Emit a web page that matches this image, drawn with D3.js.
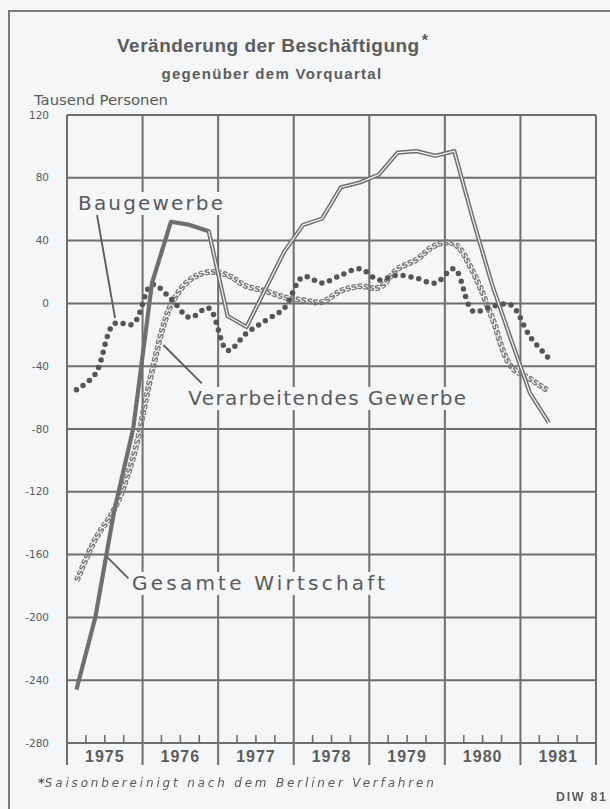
<!DOCTYPE html>
<html>
<head>
<meta charset="utf-8">
<script src="https://cdn.jsdelivr.net/npm/d3@7/dist/d3.min.js"></script>
<style>
  html, body { margin: 0; padding: 0; background: #f4f6f8; }
  svg { display: block; }
  .sglyphs { opacity: 0.99; will-change: transform; }
</style>
</head>
<body>
<svg id="chart" width="610" height="809"></svg>
<script>
// ---------------- DATA ----------------
const years = [1975, 1976, 1977, 1978, 1979, 1980, 1981];
const yearLabels = ["1975", "1976", "1977", "1978", "1979", "1980", "1981"];
const quarters = [
  "1975-1","1975-2","1975-3","1975-4",
  "1976-1","1976-2","1976-3","1976-4",
  "1977-1","1977-2","1977-3","1977-4",
  "1978-1","1978-2","1978-3","1978-4",
  "1979-1","1979-2","1979-3","1979-4",
  "1980-1","1980-2","1980-3","1980-4",
  "1981-1","1981-2"
];
// Tausend Personen, Veränderung gegenüber dem Vorquartal
const gesamteWirtschaft = [
  -246, -200, -132, -80,
    13,   52,   50,  46,
    -8,  -15,    9,  33,
    50,   54,   74,  77,
    82,   96,   97,  94,
    97,   53,   12, -23,
   -57,  -76
];
const verarbeitendesGewerbe = [
  -177, -150, -131, -98,
   -43,   -1,   15,  20,
    18,   11,    8,   4,
     2,    1,    8,  11,
    10,   22,   28,  37,
    38,   20,   -9, -40,
   -48,  -56
];
const baugewerbe = [
  -55, -45, -13, -13,
   12,   3,  -9,  -3,
  -30, -19, -11,  -3,
   17,  13,  18,  22,
   15,  18,  16,  13,
   22,  -5,  -2,  -1,
  -21, -35
];
const yTicks = [120, 80, 40, 0, -40, -80, -120, -160, -200, -240, -280];
const yTickLabels = ["120", "80", "40", "0", "-40", "-80", "-120", "-160", "-200", "-240", "-280"];

// ---------------- LAYOUT ----------------
const W = 610, H = 809;
const bg = "#f4f6f8";
const gridColor = "#6e6e6e";
const textColor = "#5a5a5a";
const plot = { left: 67, right: 596, top: 115, bottom: 743 };

const svg = d3.select("#chart");
svg.append("rect").attr("width", W).attr("height", H).attr("fill", bg);

const x = d3.scaleLinear().domain([years[0], years[years.length - 1] + 1]).range([plot.left, plot.right]);
const y = d3.scaleLinear().domain([yTicks[yTicks.length - 1], yTicks[0]]).range([plot.bottom, plot.top]);

const toT = s => { const [yr, q] = s.split("-").map(Number); return yr + (q - 0.5) / 4; };
const mk = arr => quarters.map((q, i) => ({ t: toT(q), v: arr[i] }));

// outer frame
svg.append("path")
  .attr("d", "M9,840V11H612")
  .attr("fill", "none").attr("stroke", "#7a7a7a").attr("stroke-width", 2);

// Title
const title = svg.append("text")
  .attr("x", 117).attr("y", 52)
  .attr("font-family", "Liberation Sans, Arial, sans-serif")
  .attr("font-weight", "bold").attr("font-size", 19)
  .attr("letter-spacing", 0.5)
  .attr("fill", "#5c5c5c");
title.append("tspan").text("Veränderung der Beschäftigung");
title.append("tspan").attr("dy", -6).attr("dx", 2).attr("font-size", 16).text("*");

svg.append("text")
  .attr("x", 272).attr("y", 79)
  .attr("text-anchor", "middle")
  .attr("font-family", "Liberation Sans, Arial, sans-serif")
  .attr("font-weight", "bold").attr("font-size", 15)
  .attr("letter-spacing", 1.3)
  .attr("fill", "#5c5c5c")
  .text("gegenüber dem Vorquartal");

svg.append("text")
  .attr("x", 34).attr("y", 105)
  .attr("font-family", "DejaVu Sans, sans-serif")
  .attr("font-size", 14)
  .attr("textLength", 134).attr("lengthAdjust", "spacingAndGlyphs")
  .attr("fill", textColor)
  .text("Tausend Personen");

// Grid
const grid = svg.append("g").attr("stroke", gridColor).attr("stroke-width", 2).attr("fill", "none");
yTicks.forEach(v => {
  grid.append("line")
    .attr("x1", x(years[0])).attr("x2", x(years[years.length - 1] + 1))
    .attr("y1", y(v)).attr("y2", y(v));
});
d3.range(years[0], years[years.length - 1] + 2).forEach(yr => {
  grid.append("line")
    .attr("x1", x(yr)).attr("x2", x(yr))
    .attr("y1", y(yTicks[0])).attr("y2", y(yTicks[yTicks.length - 1]) + 22);
});
years.forEach(yr => {
  [0.25, 0.5, 0.75].forEach(f => {
    grid.append("line")
      .attr("x1", x(yr + f)).attr("x2", x(yr + f))
      .attr("y1", y(yTicks[yTicks.length - 1])).attr("y2", y(yTicks[yTicks.length - 1]) - 8)
      .attr("stroke-width", 1.6);
  });
});

// Y labels
svg.append("g").selectAll("text").data(yTicks).join("text")
  .attr("x", 49).attr("y", d => y(d)).attr("dy", "0.35em")
  .attr("text-anchor", "end")
  .attr("font-family", "DejaVu Sans, sans-serif")
  .attr("font-size", 10.5)
  .attr("fill", textColor)
  .text((d, i) => yTickLabels[i]);

// Year labels
svg.append("g").selectAll("text").data(years).join("text")
  .attr("x", d => x(d + 0.5)).attr("y", y(yTicks[yTicks.length - 1]) + 19)
  .attr("text-anchor", "middle")
  .attr("font-family", "Liberation Sans, Arial, sans-serif")
  .attr("font-weight", "bold").attr("font-size", 16)
  .attr("letter-spacing", 1)
  .attr("fill", "#5c5c5c")
  .text((d, i) => yearLabels[i]);

// Series labels (positions in data units)
const seriesLabels = [
  { text: "Baugewerbe", t: 1975.146, v: 59.5, len: 145, p1: [1975.397, 56.3], p2: [1975.636, -9.3] },
  { text: "Verarbeitendes Gewerbe", t: 1976.603, v: -64.7, len: 278, p1: [1976.275, -26.5], p2: [1976.784, -50.9] },
  { text: "Gesamte Wirtschaft", t: 1975.861, v: -182.5, len: 253, p1: [1975.526, -161.3], p2: [1975.812, -175.1] }
];
const labG = svg.append("g");
seriesLabels.forEach(l => {
  const g = labG.append("g");
  const tx = g.append("text")
    .attr("x", x(l.t)).attr("y", y(l.v))
    .attr("font-family", "DejaVu Sans, sans-serif")
    .attr("font-size", 20)
    .attr("textLength", l.len).attr("lengthAdjust", "spacing")
    .attr("fill", textColor)
    .text(l.text);
  const bb = tx.node().getBBox();
  g.insert("rect", "text")
    .attr("x", bb.x - 2).attr("y", bb.y + 1)
    .attr("width", bb.width + 4).attr("height", bb.height - 1)
    .attr("fill", bg);
});

// Series lines
const lineLin = d3.line().x(d => x(d.t)).y(d => y(d.v));
const lineSmooth = d3.line().curve(d3.curveCatmullRom.alpha(0.5)).x(d => x(d.t)).y(d => y(d.v));

// Verarbeitendes Gewerbe: line of "s" characters placed along the curve
const vgData = mk(verarbeitendesGewerbe);
const vgPath = svg.append("path")
  .attr("d", lineSmooth(vgData))
  .attr("fill", "none").attr("stroke", "none");
const vgNode = vgPath.node();
const vgLen = vgNode.getTotalLength();
const sStep = 6;
const sG = svg.append("g")
  .attr("class", "sglyphs")
  .attr("font-family", "DejaVu Sans, sans-serif")
  .attr("font-weight", "bold")
  .attr("font-size", 10.5)
  .attr("fill", "#7a7a7a");
for (let L = sStep / 2; L < vgLen; L += sStep) {
  const p = vgNode.getPointAtLength(L);
  const a = vgNode.getPointAtLength(Math.max(0, L - 1));
  const b = vgNode.getPointAtLength(Math.min(vgLen, L + 1));
  const ang = Math.atan2(b.y - a.y, b.x - a.x) * 180 / Math.PI;
  sG.append("text")
    .attr("transform", `translate(${p.x.toFixed(2)},${p.y.toFixed(2)}) rotate(${ang.toFixed(1)})`)
    .attr("text-anchor", "middle")
    .attr("dy", "0.28em")
    .text("s");
}

// Baugewerbe: dotted
svg.append("path")
  .attr("d", lineSmooth(mk(baugewerbe)))
  .attr("fill", "none")
  .attr("stroke", "#555")
  .attr("stroke-width", 5.5)
  .attr("stroke-linecap", "round")
  .attr("stroke-dasharray", "0 8");

// Gesamte Wirtschaft: double line
const gwData = mk(gesamteWirtschaft);
svg.append("path")
  .attr("d", lineLin(gwData))
  .attr("fill", "none")
  .attr("stroke", "#6f6f6f")
  .attr("stroke-width", 4.2)
  .attr("stroke-linejoin", "round");
svg.append("path")
  .attr("d", lineLin(gwData.slice(7)))
  .attr("fill", "none")
  .attr("stroke", "#f4f6f8")
  .attr("stroke-width", 1.2)
  .attr("stroke-linejoin", "round");

// Pointer lines
svg.append("g").selectAll("line").data(seriesLabels).join("line")
  .attr("x1", d => x(d.p1[0])).attr("y1", d => y(d.p1[1]))
  .attr("x2", d => x(d.p2[0])).attr("y2", d => y(d.p2[1]))
  .attr("stroke", "#5a5a5a").attr("stroke-width", 1.8);

// Footnote
const fn = svg.append("text")
  .attr("x", 38).attr("y", 787)
  .attr("font-family", "DejaVu Sans, sans-serif")
  .attr("font-style", "italic")
  .attr("font-size", 12)
  .attr("fill", textColor);
fn.append("tspan").attr("font-size", 13).attr("font-weight", "bold").text("*");
fn.append("tspan").attr("textLength", 389).attr("lengthAdjust", "spacing").text("Saisonbereinigt nach dem Berliner Verfahren");

svg.append("text")
  .attr("x", 556).attr("y", 801)
  .attr("font-family", "Liberation Sans, Arial, sans-serif")
  .attr("font-weight", "bold").attr("font-size", 12.5)
  .attr("textLength", 50).attr("lengthAdjust", "spacing")
  .attr("fill", "#5c5c5c")
  .text("DIW 81");
</script>
</body>
</html>
